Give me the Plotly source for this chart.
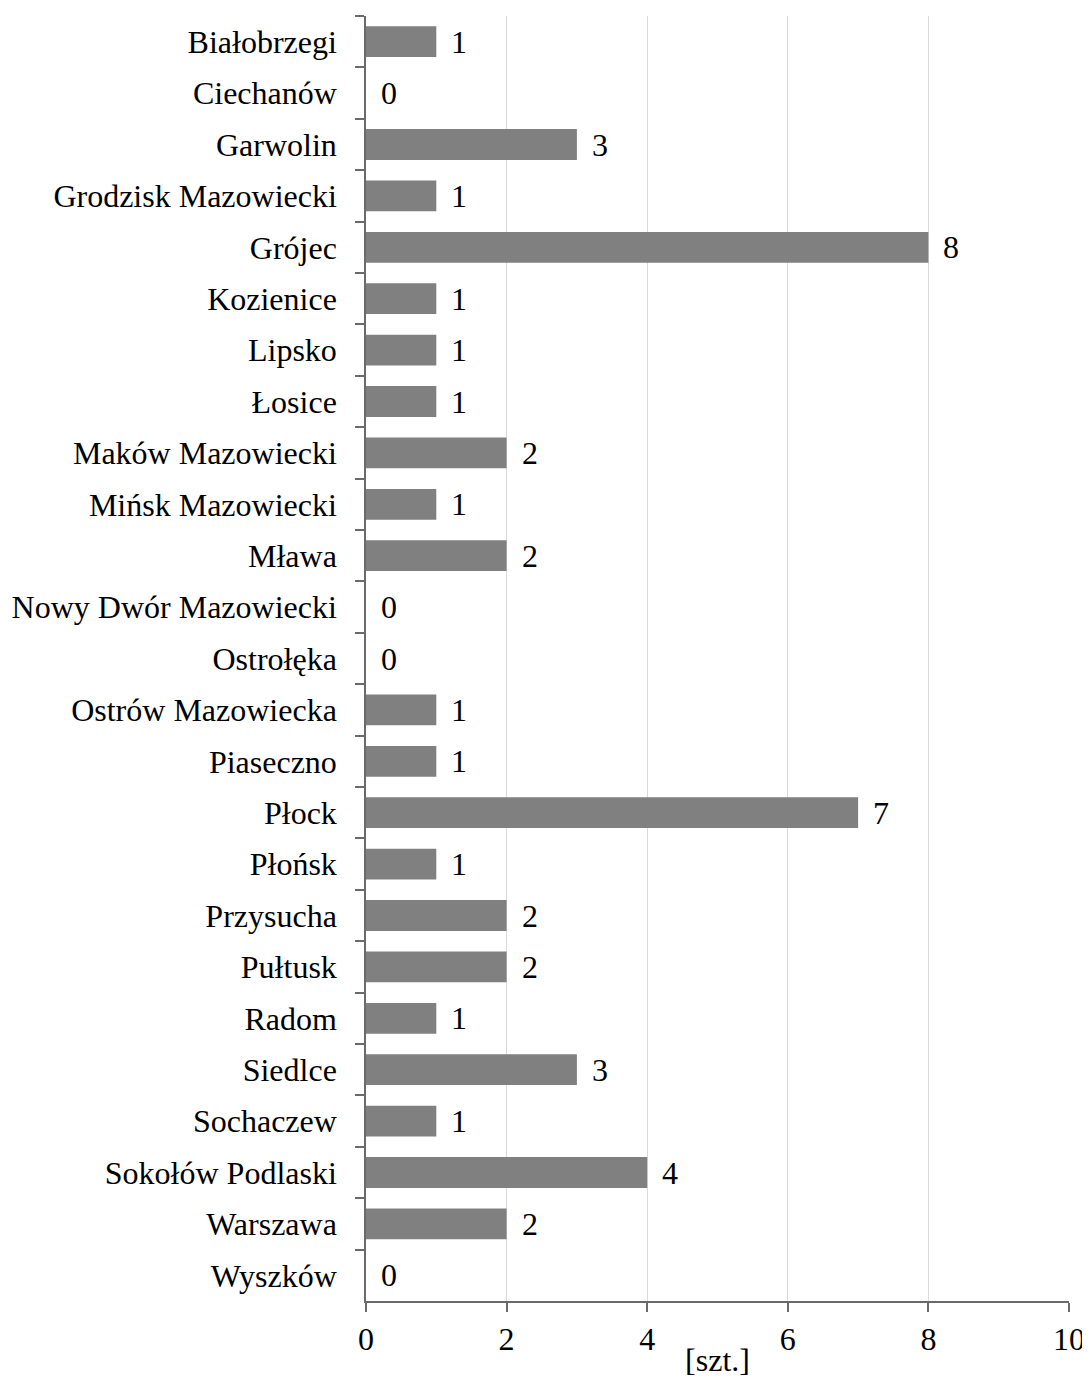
import plotly.graph_objects as go

categories = ["Białobrzegi", "Ciechanów", "Garwolin", "Grodzisk Mazowiecki", "Grójec",
              "Kozienice", "Lipsko", "Łosice", "Maków Mazowiecki", "Mińsk Mazowiecki",
              "Mława", "Nowy Dwór Mazowiecki", "Ostrołęka", "Ostrów Mazowiecka", "Piaseczno",
              "Płock", "Płońsk", "Przysucha", "Pułtusk", "Radom", "Siedlce", "Sochaczew",
              "Sokołów Podlaski", "Warszawa", "Wyszków"]
values = [1, 0, 3, 1, 8, 1, 1, 1, 2, 1, 2, 0, 0, 1, 1, 7, 1, 2, 2, 1, 3, 1, 4, 2, 0]
x_ticks = [0, 2, 4, 6, 8, 10]
x_title = "[szt.]"

FONT = "Liberation Serif, Times New Roman, serif"
FS = 32
AXIS_COLOR = "#6a6a6a"

fig = go.Figure()
fig.add_trace(go.Bar(
    x=values, y=categories, orientation="h",
    marker=dict(color="#808080", line=dict(width=0)),
    width=0.6, hoverinfo="skip",
))

annotations = []
for c, v in zip(categories, values):
    annotations.append(dict(
        x=v, y=c, xref="x", yref="y", text=str(v), showarrow=False,
        xanchor="left", yanchor="middle", xshift=13,
        font=dict(family=FONT, size=FS, color="#000000"),
    ))

# page body adds an 8px offset; size the figure to fit the window
fig.update_layout(
    width=1082, height=1370,
    margin=dict(l=358, r=21, t=8, b=77, autoexpand=False),
    paper_bgcolor="white", plot_bgcolor="white",
    showlegend=False,
    font=dict(family=FONT, size=FS, color="#000000"),
    annotations=annotations,
    bargap=0.4,
)
fig.update_xaxes(
    range=[0, 10], tickvals=x_ticks, ticktext=[str(t) for t in x_ticks],
    showgrid=True, gridcolor="#d9d9d9", gridwidth=1,
    showline=True, linecolor=AXIS_COLOR, linewidth=1.5,
    ticks="outside", ticklen=9, tickcolor=AXIS_COLOR, tickwidth=1.5,
    zeroline=False, automargin=False,
    tickfont=dict(family=FONT, size=FS, color="#000000"),
    title=dict(text=x_title, font=dict(family=FONT, size=FS, color="#000000"), standoff=6),
)
fig.update_yaxes(
    autorange="reversed", type="category", automargin=False,
    showgrid=False, showline=True, linecolor=AXIS_COLOR, linewidth=1.5,
    ticks="outside", tickson="boundaries", ticklen=9, tickcolor=AXIS_COLOR, tickwidth=1.5,
    ticklabelstandoff=21,
    tickfont=dict(family=FONT, size=FS, color="#000000"),
)

fig.write_html("out.html")
